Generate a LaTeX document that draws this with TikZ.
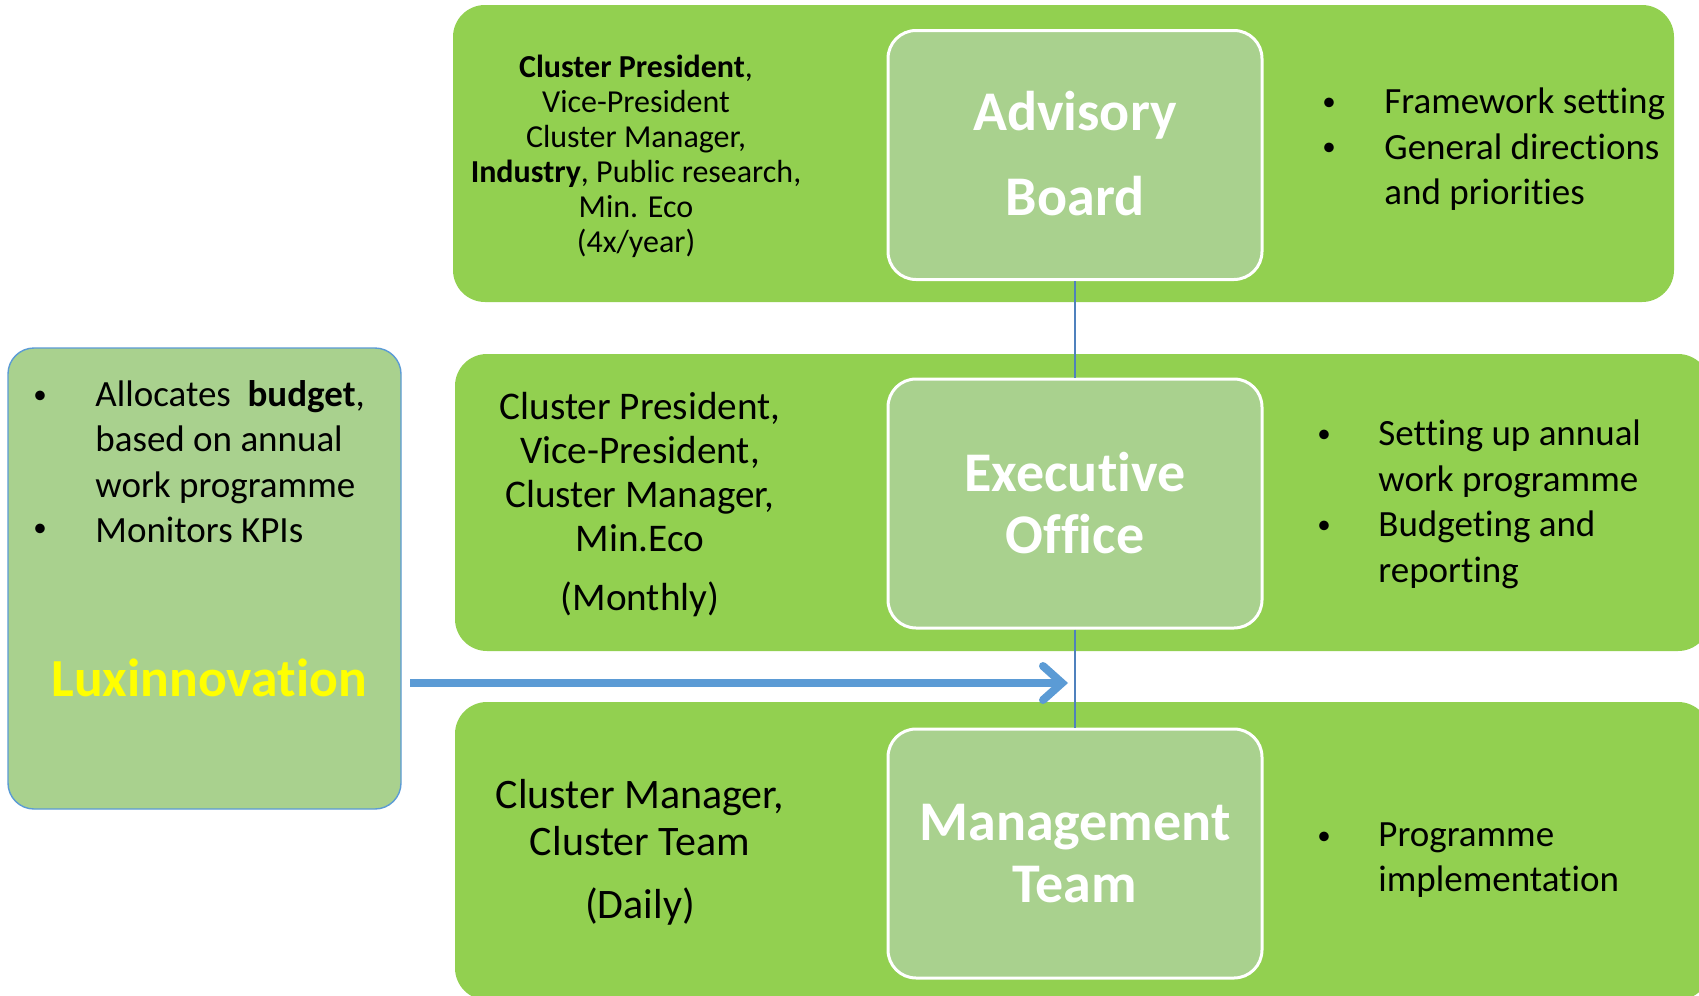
\documentclass[tikz,border=0pt]{standalone}
\usepackage{fontspec}
\setmainfont{Carlito}[Ligatures={NoCommon,NoContextual}]
\usetikzlibrary{arrows.meta}
\definecolor{panelgreen}{HTML}{92D050}
\definecolor{innergreen}{HTML}{A9D18E}
\definecolor{arrowblue}{HTML}{5B9BD5}
\definecolor{lineblue}{HTML}{4F81BD}
\definecolor{luxyellow}{HTML}{FFFF00}
\tikzset{
  panel/.style={fill=panelgreen, draw=none, rounded corners=16pt, inner sep=0pt},
  innerbox/.style={fill=innergreen, draw=white, line width=1.5pt, rounded corners=14pt, minimum width=187pt, minimum height=124.5pt, inner sep=0pt},
  leftbox/.style={fill=innergreen, draw=arrowblue, line width=0.7pt, rounded corners=13pt, inner sep=0pt},
  heading/.style={text=white, font=\fontsize{28}{31}\selectfont\bfseries, align=center},
  smalltxt/.style={font=\fontsize{16}{17.5}\selectfont, align=center},
  midtxt/.style={font=\fontsize{19.6}{22}\selectfont, align=center},
  bottxt/.style={font=\fontsize{21}{23.5}\selectfont, align=center},
  itemtxt/.style={font=\fontsize{18.5}{22.75}\selectfont, align=left, anchor=west, inner sep=0pt},
  bul/.style={font=\fontsize{13.5}{16}\selectfont, inner sep=0pt},
  vline/.style={draw=lineblue, line width=0.8pt},
  bigarrow/.style={draw=arrowblue, line width=4pt, -{Straight Barb[length=9.5pt,width=17pt,line cap=round]}}
}
\begin{document}
\begin{tikzpicture}[x=0.5pt,y=-0.5pt]
\useasboundingbox (0,0) rectangle (1699,996);
\clip (0,0) rectangle (1699,996);
\fill[white] (0,0) rectangle (1699,996);

% panels
\node[panel, minimum width=610.5pt, minimum height=148.5pt] (ptop) at (1063.5,153.5) {};
\node[panel, minimum width=627.5pt, minimum height=148.5pt] (pmid) at (1082.5,502.5) {};
\node[panel, minimum width=627.5pt, minimum height=149pt] (pbot) at (1082.5,851) {};
\node[leftbox, minimum width=196.5pt, minimum height=230.5pt] (lux) at (204.5,578.5) {};

% inner boxes
\node[innerbox] (adv) at (1075,155) {};
\node[innerbox] (exe) at (1075,503.5) {};
\node[innerbox] (mgt) at (1075,853.5) {};

% headings
\node[heading, font=\fontsize{28}{42.5}\selectfont\bfseries] (advt) at (1075,154) {Advisory\\Board};
\node[heading] (exet) at (1075,503) {Executive\\Office};
\node[heading] (mgtt) at (1075,854) {Management\\Team};

% connectors
\draw[vline] (adv.south) -- (exe.north);
\draw[vline] (exe.south) -- (mgt.north);
\coordinate (arrstart) at (410,683);
\coordinate (arrend) at (1068,683);
\draw[bigarrow] (arrstart) -- (arrend);

% left texts
\node[smalltxt] (advmem) at (636,156) {\textbf{Cluster President},\\Vice-President\\Cluster Manager,\\\textbf{Industry}, Public research,\\Min. Eco\\(4x/year)};
\node[midtxt] (exemem) at (640,472) {Cluster President,\\Vice-President,\\Cluster Manager,\\Min.Eco};
\node[midtxt] (exefreq) at (640,599) {(Monthly)};
\node[bottxt] (mgtmem) at (640,818) {Cluster Manager,\\Cluster Team};
\node[bottxt] (mgtfreq) at (640,907) {(Daily)};

% right bullets - advisory
\node[bul] (ab1) at (1329,104) {\textbullet};
\node[itemtxt] (ai1) at (1384,104) {Framework setting};
\node[bul] (ab2) at (1329,149) {\textbullet};
\node[itemtxt] (ai2) at (1384,172) {General directions\\and priorities};

% right bullets - executive
\node[bul] (eb1) at (1324,436) {\textbullet};
\node[itemtxt] (ei1) at (1378,459) {Setting up annual\\work programme};
\node[bul] (eb2) at (1324,527) {\textbullet};
\node[itemtxt] (ei2) at (1378,550) {Budgeting and\\reporting};

% right bullets - management
\node[bul] (mb1) at (1324,838) {\textbullet};
\node[itemtxt] (mi1) at (1378,860) {Programme\\implementation};

% left box bullets
\node[bul] (lb1) at (40,397) {\textbullet};
\node[itemtxt] (li1) at (95,442) {Allocates~ \textbf{budget},\\based on annual\\work programme};
\node[bul] (lb2) at (40,530) {\textbullet};
\node[itemtxt] (li2) at (95,530) {Monitors KPIs};

\node[text=luxyellow, font=\fontsize{26.8}{30}\selectfont\bfseries] (luxt) at (209,678) {Luxinnovation};
\end{tikzpicture}
\end{document}
